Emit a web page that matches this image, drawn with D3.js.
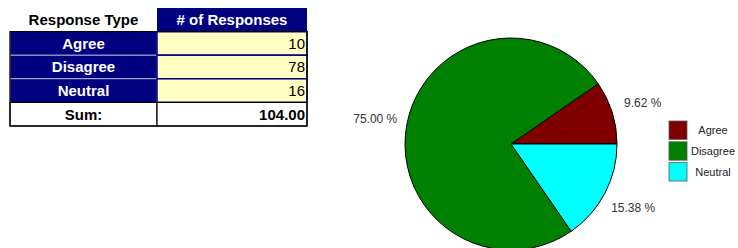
<!DOCTYPE html>
<html>
<head>
<meta charset="utf-8">
<script src="https://cdn.jsdelivr.net/npm/d3@7"></script>
<style>
  body { margin: 0; background: #fff; }
  svg { display: block; font-family: Arial, "Liberation Sans", sans-serif; }
</style>
</head>
<body>
<svg id="chart" width="738" height="248"></svg>
<script>
// data
var categories = ["Agree", "Disagree", "Neutral"];
var responses = [10, 78, 16];
var headers = ["Response Type", "# of Responses"];
var sumLabel = "Sum:";
var colors = ["#800000", "#008000", "#00ffff"];

var svg = d3.select("#chart");
var total = d3.sum(responses);

// ---- table ----
var tableRows = ["header"].concat(categories, ["sum"]);
var rowY = d3.scaleBand().domain(tableRows).range([8, 126]);
var colX = d3.scaleOrdinal().domain([0, 1]).range([10, 157]);
var colW = [147, 150];
var fs = 15;

var table = svg.append("g").attr("class", "table");

// header
table.append("rect")
    .attr("x", colX(1)).attr("y", rowY("header"))
    .attr("width", colW[1]).attr("height", rowY.bandwidth())
    .attr("fill", "#000080");
table.selectAll("text.hdr")
    .data(headers)
    .enter().append("text")
    .attr("class", "hdr")
    .attr("x", function (d, i) { return colX(i) + colW[i] / 2; })
    .attr("y", rowY("header") + rowY.bandwidth() / 2)
    .attr("dy", "0.36em")
    .attr("text-anchor", "middle")
    .attr("font-size", fs).attr("font-weight", "bold")
    .attr("fill", function (d, i) { return i ? "#fff" : "#000"; })
    .text(function (d) { return d; });

// body rows
var rows = table.selectAll("g.row")
    .data(categories.map(function (c, i) { return {name: c, value: responses[i]}; }))
    .enter().append("g").attr("class", "row")
    .attr("transform", function (d) { return "translate(0," + rowY(d.name) + ")"; });

rows.append("rect")
    .attr("x", colX(0)).attr("width", colW[0]).attr("height", rowY.bandwidth())
    .attr("fill", "#000080").attr("stroke", "#c8c8e0").attr("stroke-width", 0.8);
rows.append("rect")
    .attr("x", colX(1)).attr("width", colW[1]).attr("height", rowY.bandwidth())
    .attr("fill", "#ffffc4").attr("stroke", "#000080").attr("stroke-width", 1.5);
rows.append("text")
    .attr("x", colX(0) + colW[0] / 2).attr("y", rowY.bandwidth() / 2).attr("dy", "0.36em")
    .attr("text-anchor", "middle").attr("font-size", fs).attr("font-weight", "bold")
    .attr("fill", "#fff")
    .text(function (d) { return d.name; });
rows.append("text")
    .attr("x", colX(1) + colW[1] - 2).attr("y", rowY.bandwidth() / 2).attr("dy", "0.36em")
    .attr("text-anchor", "end").attr("font-size", fs)
    .attr("fill", "#000")
    .text(function (d) { return d.value; });

// sum row
var sumG = table.append("g").attr("transform", "translate(0," + rowY("sum") + ")");
[0, 1].forEach(function (i) {
  sumG.append("rect")
      .attr("x", colX(i)).attr("width", colW[i]).attr("height", rowY.bandwidth())
      .attr("fill", "#fff").attr("stroke", "#000").attr("stroke-width", 1.2);
});
sumG.append("text")
    .attr("x", colX(0) + colW[0] / 2).attr("y", rowY.bandwidth() / 2).attr("dy", "0.36em")
    .attr("text-anchor", "middle").attr("font-size", fs).attr("font-weight", "bold")
    .text(sumLabel);
sumG.append("text")
    .attr("x", colX(1) + colW[1] - 2).attr("y", rowY.bandwidth() / 2).attr("dy", "0.36em")
    .attr("text-anchor", "end").attr("font-size", fs).attr("font-weight", "bold")
    .text(total.toFixed(2));

// outer outline of the body
table.append("rect")
    .attr("x", colX(0)).attr("y", rowY(categories[0]))
    .attr("width", colW[0] + colW[1])
    .attr("height", rowY("sum") + rowY.bandwidth() - rowY(categories[0]))
    .attr("fill", "none").attr("stroke", "#000").attr("stroke-width", 1.2);

// ---- pie ----
var cx = 511, cy = 144, radius = 106;
var color = d3.scaleOrdinal().domain(categories).range(colors);

// starts at 3 o'clock and runs counter-clockwise
var pie = d3.pie().sort(null)
    .startAngle(Math.PI / 2).endAngle(Math.PI / 2 - 2 * Math.PI);
var arc = d3.arc().innerRadius(0).outerRadius(radius);
var labelArc = d3.arc().innerRadius(138).outerRadius(138);

var pieData = pie(responses);

var pg = svg.append("g").attr("transform", "translate(" + cx + "," + cy + ")");
pg.selectAll("path")
    .data(pieData)
    .enter().append("path")
    .attr("d", arc)
    .attr("fill", function (d, i) { return color(categories[i]); })
    .attr("stroke", "#000").attr("stroke-width", 1);

pg.selectAll("text")
    .data(pieData)
    .enter().append("text")
    .attr("transform", function (d) { return "translate(" + labelArc.centroid(d) + ")"; })
    .attr("dy", "0.36em")
    .attr("text-anchor", "middle")
    .attr("font-size", 12).attr("fill", "#333")
    .text(function (d) { return (d.value / total * 100).toFixed(2) + " %"; });

// ---- legend ----
var legY = d3.scaleBand().domain(categories).range([121, 181]).paddingInner(0.12);
var leg = svg.append("g").attr("class", "legend");
leg.selectAll("rect")
    .data(categories)
    .enter().append("rect")
    .attr("x", 669).attr("y", function (d) { return legY(d); })
    .attr("width", 18).attr("height", legY.bandwidth())
    .attr("fill", function (d) { return color(d); })
    .attr("stroke", "#555").attr("stroke-width", 0.8);
leg.selectAll("text")
    .data(categories)
    .enter().append("text")
    .attr("x", 713).attr("y", function (d) { return legY(d) + legY.bandwidth() / 2; })
    .attr("dy", "0.36em")
    .attr("text-anchor", "middle")
    .attr("font-size", 11).attr("fill", "#222")
    .text(function (d) { return d; });
</script>
</body>
</html>
